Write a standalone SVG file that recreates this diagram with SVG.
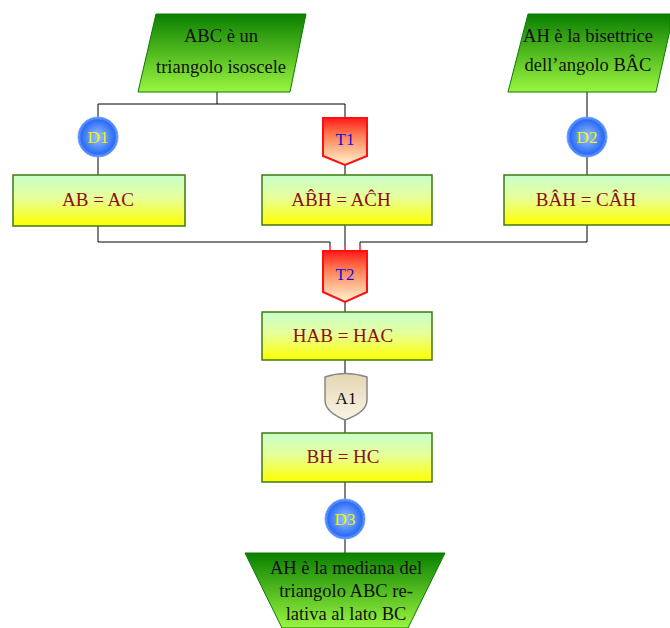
<svg xmlns="http://www.w3.org/2000/svg" width="670" height="628" viewBox="0 0 670 628">
  <defs>
    <linearGradient id="gGreen" x1="0" y1="0" x2="0" y2="1">
      <stop offset="0" stop-color="#0a8000"/>
      <stop offset="1" stop-color="#9af540"/>
    </linearGradient>
    <linearGradient id="gBox" x1="0" y1="0" x2="0" y2="1">
      <stop offset="0" stop-color="#c8ffcc"/>
      <stop offset="0.45" stop-color="#e6ff99"/>
      <stop offset="1" stop-color="#ffff00"/>
    </linearGradient>
    <radialGradient id="gBlue" cx="0.5" cy="0.5" r="0.5">
      <stop offset="0" stop-color="#9cc4ff"/>
      <stop offset="0.85" stop-color="#2a6cf5"/>
      <stop offset="0.93" stop-color="#5a90ff"/>
      <stop offset="1" stop-color="#2a66ee"/>
    </radialGradient>
    <linearGradient id="gRed" x1="0" y1="0" x2="0" y2="1">
      <stop offset="0" stop-color="#ff1a1a"/>
      <stop offset="0.35" stop-color="#ff7a50"/>
      <stop offset="1" stop-color="#fff6d0"/>
    </linearGradient>
    <linearGradient id="gBeige" x1="0" y1="0" x2="0" y2="1">
      <stop offset="0" stop-color="#e4d6b4"/>
      <stop offset="1" stop-color="#faf4e6"/>
    </linearGradient>
  </defs>
  <style>
    text { font-family: "Liberation Serif", "Times New Roman", serif; text-anchor: middle; }
    .hyp { fill: url(#gGreen); stroke: #0a7a00; stroke-width: 1; }
    .hyp-t { font-size: 18.5px; fill: #111; }
    .box { fill: url(#gBox); stroke: #3f7a10; stroke-width: 1.5; }
    .box-t { font-size: 19px; fill: #8b1010; }
    .circ { fill: url(#gBlue); stroke: #7aa8ff; stroke-width: 1; }
    .circ-t { font-size: 17px; fill: #f4f400; }
    .tag { fill: url(#gRed); stroke: #ff1010; stroke-width: 2; }
    .tag-t { font-size: 17px; fill: #1010e0; }
    .shield { fill: url(#gBeige); stroke: #888; stroke-width: 1.5; }
    .shield-t { font-size: 17px; fill: #111; }
    .wire { fill: none; stroke: #000; stroke-width: 1; }
    .wire-red { fill: none; stroke: #ff2020; stroke-width: 1.5; }
  </style>

  <!-- connectors -->
  <g id="connectors">
    <polyline class="wire" points="217,92 217,104"/>
    <polyline class="wire" points="98,117 98,104 345,104 345,117"/>
    <polyline class="wire" points="587,92 587,117"/>
    <polyline class="wire" points="98,157 98,175"/>
    <polyline class="wire" points="345,165 345,175"/>
    <polyline class="wire" points="587,157 587,175"/>
    <polyline class="wire" points="98,226 98,242 330,242 330,246"/>
    <polyline class="wire" points="345,225 345,246"/>
    <polyline class="wire" points="587,225 587,242 360,242 360,246"/>
    <polyline class="wire-red" points="330,246 330,251"/>
    <polyline class="wire-red" points="345,246 345,251"/>
    <polyline class="wire-red" points="360,246 360,251"/>
    <polyline class="wire" points="345,302 345,312"/>
    <polyline class="wire" points="345,360 345,373"/>
    <polyline class="wire" points="345,420 345,433"/>
    <polyline class="wire" points="345,482 345,499"/>
    <polyline class="wire" points="345,539 345,553"/>
  </g>

  <!-- hypotheses -->
  <g id="hyp1">
    <polygon class="hyp" points="156,14 306,14 290,92 138,92"/>
    <text class="hyp-t" x="221" y="42">ABC è un</text>
    <text class="hyp-t" x="221" y="73">triangolo isoscele</text>
  </g>
  <g id="hyp2">
    <polygon class="hyp" points="528,14 670,14 670,30 656,92 508,92"/>
    <text class="hyp-t" x="588" y="42">AH è la bisettrice</text>
    <text class="hyp-t" x="588" y="71">dell’angolo BÂC</text>
  </g>

  <!-- definitions / theorems row -->
  <g id="D1">
    <circle class="circ" cx="98" cy="137" r="20"/>
    <text class="circ-t" x="98" y="143">D1</text>
  </g>
  <g id="T1">
    <polygon class="tag" points="323,118 367,118 367,156 345,165 323,156"/>
    <text class="tag-t" x="345" y="145">T1</text>
  </g>
  <g id="D2">
    <circle class="circ" cx="587" cy="137" r="20"/>
    <text class="circ-t" x="587" y="143">D2</text>
  </g>

  <g id="box-ab-ac">
    <rect class="box" x="13" y="175" width="172" height="51"/>
    <text class="box-t" x="98" y="206">AB = AC</text>
  </g>
  <g id="box-abh-ach">
    <rect class="box" x="262" y="175" width="170" height="50"/>
    <text class="box-t" x="341" y="206">AB̂H = AĈH</text>
  </g>
  <g id="box-bah-cah">
    <rect class="box" x="504" y="175" width="170" height="50"/>
    <text class="box-t" x="586" y="206">BÂH = CÂH</text>
  </g>

  <g id="T2">
    <polygon class="tag" points="323,251 367,251 367,292 345,302 323,292"/>
    <text class="tag-t" x="345" y="280">T2</text>
  </g>

  <g id="box-hab-hac">
    <rect class="box" x="262" y="312" width="170" height="48"/>
    <text class="box-t" x="343" y="342">HAB = HAC</text>
  </g>

  <g id="A1">
    <path class="shield" d="M325,377 Q345,370 367,377 L367,400 Q367,412 345,420 Q325,412 325,400 Z"/>
    <text class="shield-t" x="346" y="404">A1</text>
  </g>

  <g id="box-bh-hc">
    <rect class="box" x="262" y="433" width="170" height="49"/>
    <text class="box-t" x="343" y="463">BH = HC</text>
  </g>

  <g id="D3">
    <circle class="circ" cx="345" cy="519" r="20"/>
    <text class="circ-t" x="345" y="525">D3</text>
  </g>

  <g id="thesis">
    <polygon class="hyp" points="245,553 445,553 408,628 282,628"/>
    <text class="hyp-t" x="346" y="574">AH è la mediana del</text>
    <text class="hyp-t" x="346" y="597">triangolo ABC re-</text>
    <text class="hyp-t" x="346" y="620">lativa al lato BC</text>
  </g>
</svg>
